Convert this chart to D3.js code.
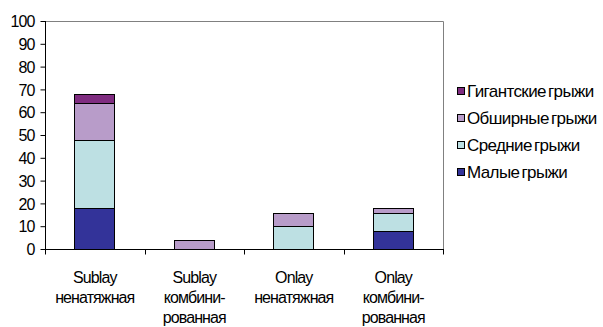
<!doctype html>
<html lang="ru">
<head>
<meta charset="utf-8">
<title>Грыжи</title>
<style>
  body { margin: 0; background: #fff; }
  svg { display: block; font-family: "Liberation Sans", Arial, sans-serif; }
  .lbl { font-size: 16px; letter-spacing: -0.9px; fill: #000; }
  .leg { font-size: 17px; letter-spacing: -0.6px; word-spacing: -2px; fill: #000; }
</style>
</head>
<body>
<div id="chart"></div>
<script src="https://d3js.org/d3.v7.min.js"></script>
<script>
// data
var categories = [
  ["Sublay", "ненатяжная"],
  ["Sublay", "комбини-", "рованная"],
  ["Onlay", "ненатяжная"],
  ["Onlay", "комбини-", "рованная"]
];
var seriesNames = ["Малые грыжи", "Средние грыжи", "Обширные грыжи", "Гигантские грыжи"];
var seriesColors = ["#333399", "#bde0e3", "#b89cc9", "#7f2c80"];
var malye      = [18, 0, 0, 8];
var srednie    = [30, 0, 10, 8];
var obshirnye  = [16, 4, 6, 2];
var gigantskie = [4, 0, 0, 0];
var yTicks = [0, 10, 20, 30, 40, 50, 60, 70, 80, 90, 100];

var width = 603, height = 327;
var x0 = 45, x1 = 443, y0 = 21, y1 = 249;

var rows = categories.map(function(c, i) {
  return { i: i, m: malye[i], s: srednie[i], o: obshirnye[i], g: gigantskie[i] };
});
var stack = d3.stack().keys(["m", "s", "o", "g"]);
var layers = stack(rows);

var x = d3.scaleBand().domain(d3.range(categories.length)).range([x0, x1]).paddingInner(0).paddingOuter(0);
var y = d3.scaleLinear().domain([0, 100]).range([y1, y0]);
var barW = 41;

var svg = d3.select("#chart").append("svg")
    .attr("width", width).attr("height", height);

// plot frame (top and right)
svg.append("path")
    .attr("d", "M" + x0 + "," + (y0 + 0.5) + "H" + (x1 + 0.5) + "V" + y1)
    .attr("fill", "none").attr("stroke", "#808080").attr("stroke-width", 1);

// bars
svg.selectAll("g.layer")
  .data(layers)
  .enter().append("g")
    .attr("class", "layer")
    .attr("fill", function(d, i) { return seriesColors[i]; })
  .selectAll("rect")
  .data(function(d) { return d.filter(function(p) { return p[1] - p[0] > 0; }); })
  .enter().append("rect")
    .attr("x", function(d) { return Math.round(x(d.data.i) + x.bandwidth() / 2 - barW / 2) + 0.5; })
    .attr("width", barW - 1)
    .attr("y", function(d) { return Math.round(y(d[1])) + 0.5; })
    .attr("height", function(d) { return Math.round(y(d[0])) - Math.round(y(d[1])); })
    .attr("stroke", "#000").attr("stroke-width", 1);

// y axis
var yAxis = svg.append("g")
    .attr("transform", "translate(" + (x0 + 0.5) + ",0)")
    .call(d3.axisLeft(y).tickValues(yTicks).tickSize(5).tickPadding(6));
yAxis.select(".domain").attr("stroke", "#000").attr("d", "M0," + y0 + "V" + (y1 + 0.5));
yAxis.selectAll(".tick line").attr("stroke", "#000");
yAxis.selectAll("text").attr("class", "lbl").attr("font-family", null).attr("font-size", null)
    .attr("dy", "0.36em");

// x axis
var xAxis = svg.append("g")
    .attr("transform", "translate(0," + (y1 + 0.5) + ")");
xAxis.append("line").attr("x1", x0).attr("x2", x1 + 1).attr("stroke", "#000");
xAxis.selectAll("line.tk")
  .data(d3.range(categories.length + 1))
  .enter().append("line")
    .attr("class", "tk")
    .attr("x1", function(d) { return Math.round(x0 + d * x.bandwidth()) + 0.5; })
    .attr("x2", function(d) { return Math.round(x0 + d * x.bandwidth()) + 0.5; })
    .attr("y1", 0).attr("y2", 5).attr("stroke", "#000");

svg.selectAll("text.cat")
  .data(categories)
  .enter().append("text")
    .attr("class", "lbl cat")
    .attr("text-anchor", "middle")
    .attr("transform", function(d, i) { return "translate(" + (x(i) + x.bandwidth() / 2) + ",283)"; })
  .selectAll("tspan")
  .data(function(d) { return d; })
  .enter().append("tspan")
    .attr("x", 0)
    .attr("y", function(d, j) { return j * 20; })
    .text(function(d) { return d; });

// legend (reverse order)
var legend = svg.append("g").attr("transform", "translate(457,0)");
var legItems = seriesNames.map(function(n, i) { return { name: n, color: seriesColors[i] }; }).reverse();
var li = legend.selectAll("g")
  .data(legItems)
  .enter().append("g")
    .attr("transform", function(d, i) { return "translate(0," + (91 + i * 27) + ")"; });
li.append("rect")
    .attr("x", 0.5).attr("y", -3.5).attr("width", 7).attr("height", 7)
    .attr("fill", function(d) { return d.color; })
    .attr("stroke", "#000");
li.append("text")
    .attr("class", "leg")
    .attr("x", 10)
    .attr("dy", "0.36em")
    .text(function(d) { return d.name; });
</script>
</body>
</html>
